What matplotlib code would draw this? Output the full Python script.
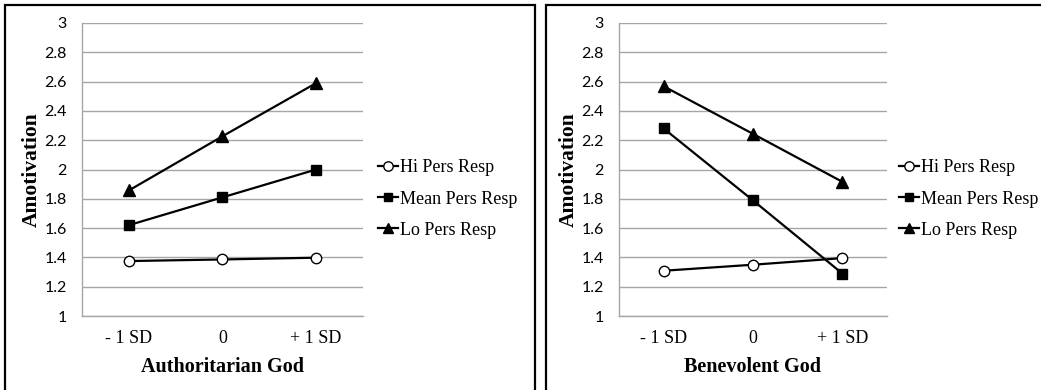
import matplotlib
matplotlib.use("Agg")
import matplotlib.pyplot as plt
from matplotlib.patches import Rectangle

# ─── DATA ──────────────────────────────────────────────────────────────────
x_labels   = ["- 1 SD", "0", "+ 1 SD"]
series     = ["Hi Pers Resp", "Mean Pers Resp", "Lo Pers Resp"]

auth_hi    = [1.375, 1.386, 1.398]
auth_mean  = [1.62, 1.81, 2.0]
auth_lo    = [1.857, 2.227, 2.59]

bene_hi    = [1.309, 1.35, 1.395]
bene_mean  = [2.28, 1.789, 1.29]
bene_lo    = [2.568, 2.243, 1.916]

y_ticks    = [1, 1.2, 1.4, 1.6, 1.8, 2, 2.2, 2.4, 2.6, 2.8, 3]
# ────────────────────────────────────────────────────────────────────────────

W, H = 1041, 390
fig = plt.figure(figsize=(W / 100, H / 100), dpi=100)

SERIF = "Liberation Serif"
SANS  = "Lato"
GRID  = "#a6a6a6"

styles = [
    dict(marker="o", markersize=7.5, markerfacecolor="white", markeredgecolor="black", markeredgewidth=1.0),
    dict(marker="s", markersize=7, markerfacecolor="black", markeredgecolor="black"),
    dict(marker="^", markersize=8.5, markerfacecolor="black", markeredgecolor="black"),
]


def px_axes(x0, x1, y0, y1):
    return fig.add_axes([x0 / W, 1 - y1 / H, (x1 - x0) / W, (y1 - y0) / H])


def panel(ax, data, xlabel, leg_x):
    xs = range(len(x_labels))
    for vals, name, st in zip(data, series, styles):
        ax.plot(xs, vals, color="black", linewidth=1.6, label=name, **st)
    ax.set_xlim(-0.5, 2.5)
    ax.set_ylim(1, 3)
    ax.set_yticks(y_ticks)
    ax.set_yticklabels([f"{t:g}" for t in y_ticks], fontsize=11.5, fontfamily=SANS)
    ax.set_xticks(list(xs))
    ax.set_xticklabels(x_labels, fontsize=13, fontfamily=SERIF)
    ax.tick_params(length=0)
    ax.tick_params(axis="y", pad=11)
    ax.tick_params(axis="x", pad=10)
    ax.grid(axis="y", color=GRID, linewidth=1)
    ax.set_axisbelow(True)
    for s in ["top", "right"]:
        ax.spines[s].set_visible(False)
    for s in ["left", "bottom"]:
        ax.spines[s].set_color(GRID)
        ax.spines[s].set_linewidth(1)
    ax.set_xlabel(xlabel, fontsize=14.5, fontweight="bold", fontfamily=SERIF)
    ax.set_ylabel("Amotivation", fontsize=15.5, fontweight="bold", fontfamily=SERIF)
    ax.xaxis.set_label_coords(0.5, -(367 - 316) / 293)
    ax.xaxis.label.set_va("center")
    bb = ax.get_position()
    ax_w = bb.width * W
    ax.yaxis.set_label_coords(-50 / ax_w, 0.5)
    ax.yaxis.label.set_va("center")
    ax.legend(loc="center left", bbox_to_anchor=(leg_x / W, 1 - 199 / H),
              bbox_transform=fig.transFigure, frameon=False,
              prop={"family": SERIF, "size": 13}, handlelength=1.1,
              handletextpad=0.1, labelspacing=0.78, borderpad=0, borderaxespad=0,
              markerscale=0.9)


ax1 = px_axes(82, 363, 23, 316)
panel(ax1, [auth_hi, auth_mean, auth_lo], "Authoritarian God", 378)

ax2 = px_axes(619, 887, 23, 316)
panel(ax2, [bene_hi, bene_mean, bene_lo], "Benevolent God", 899)

# panel frames
for x0, x1 in [(5, 535), (546, 1060)]:
    fig.add_artist(Rectangle((x0 / W, -0.1), (x1 - x0) / W, 1 - 5 / H + 0.1,
                             transform=fig.transFigure, fill=False,
                             edgecolor="black", linewidth=1.6, clip_on=False))

fig.savefig("out.png", dpi=100)
